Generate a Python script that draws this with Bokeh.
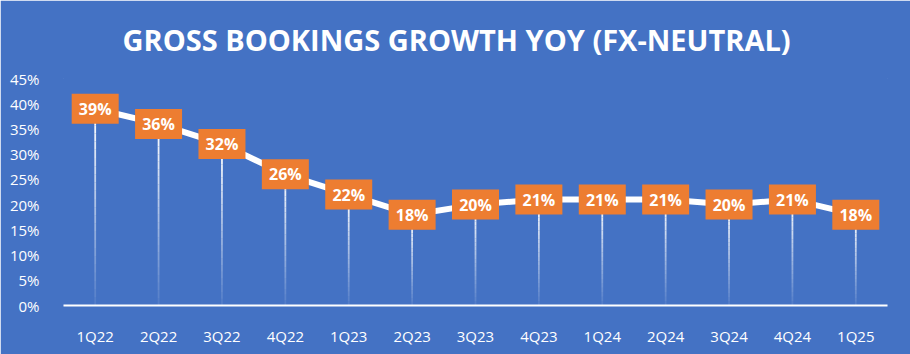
from bokeh.plotting import figure
from bokeh.models import ColumnDataSource, FixedTicker, PrintfTickFormatter, FactorRange, Range1d
from bokeh.core.properties import value
from bokeh.embed import file_html
from bokeh.resources import INLINE

quarters = ["1Q22", "2Q22", "3Q22", "4Q22", "1Q23", "2Q23", "3Q23", "4Q23",
            "1Q24", "2Q24", "3Q24", "4Q24", "1Q25"]
growth = [39, 36, 32, 26, 22, 18, 20, 21, 21, 21, 20, 21, 18]
y_ticks = [0, 5, 10, 15, 20, 25, 30, 35, 40, 45]
title_text = "GROSS BOOKINGS GROWTH YOY (FX-NEUTRAL)"

BG = "#4472C4"
ORANGE = "#ED7D31"
FONT = "Open Sans"

p = figure(width=910, height=354, x_range=FactorRange(*quarters), y_range=Range1d(0, 45),
           output_backend="svg", toolbar_location=None, title=title_text,
           min_border_left=63, min_border_right=23, min_border_top=78, min_border_bottom=49)
p.background_fill_color = BG
p.border_fill_color = BG
p.outline_line_color = BG
p.outline_line_width = 1
p.xgrid.grid_line_color = None
p.ygrid.grid_line_color = None

p.title.align = "left"
p.title.vertical_align = "top"
p.title.text_color = "white"
p.title.text_font = FONT
p.title.text_font_style = "bold"
p.title.text_font_size = "29px"
p.title.offset = 59
p.title.standoff = 36

# fading drop lines
n = 24
xs0, ys0, ys1, alphas = [], [], [], []
for q, v in zip(quarters, growth):
    for k in range(n):
        xs0.append(q)
        ys0.append(v * (1 - k / n))
        ys1.append(v * (1 - (k + 1) / n))
        alphas.append(0.95 * (1 - k / n) + 0.05)
p.segment(x0=xs0, y0=ys0, x1=xs0, y1=ys1, line_color="white", line_alpha=alphas, line_width=1.8)

src = ColumnDataSource(dict(q=quarters, v=growth, lab=[f"{g}%" for g in growth]))
p.line("q", "v", source=src, line_color="white", line_width=6)
p.rect("q", "v", width=47, height=30, width_units="screen", height_units="screen",
       source=src, fill_color=ORANGE, line_color=None)
p.text("q", "v", text="lab", source=src, text_color="white", text_font=value(FONT),
       text_font_style="bold", text_font_size="16px", text_align="center", text_baseline="middle")

# axes
p.yaxis.ticker = FixedTicker(ticks=y_ticks)
p.yaxis.formatter = PrintfTickFormatter(format="%d%%")
p.yaxis.axis_line_color = None
p.yaxis.major_tick_line_color = None
p.yaxis.minor_tick_line_color = None
p.yaxis.major_label_text_color = "white"
p.yaxis.major_label_text_font = FONT
p.yaxis.major_label_text_font_size = "15px"
p.yaxis.major_label_standoff = 18

p.xaxis.axis_line_color = "white"
p.xaxis.axis_line_width = 2
p.xaxis.major_tick_line_color = None
p.xaxis.minor_tick_line_color = None
p.xaxis.major_label_text_color = "white"
p.xaxis.major_label_text_font = FONT
p.xaxis.major_label_text_font_size = "15px"
p.xaxis.major_label_standoff = 14

open("out.html", "w").write(file_html(p, INLINE))
